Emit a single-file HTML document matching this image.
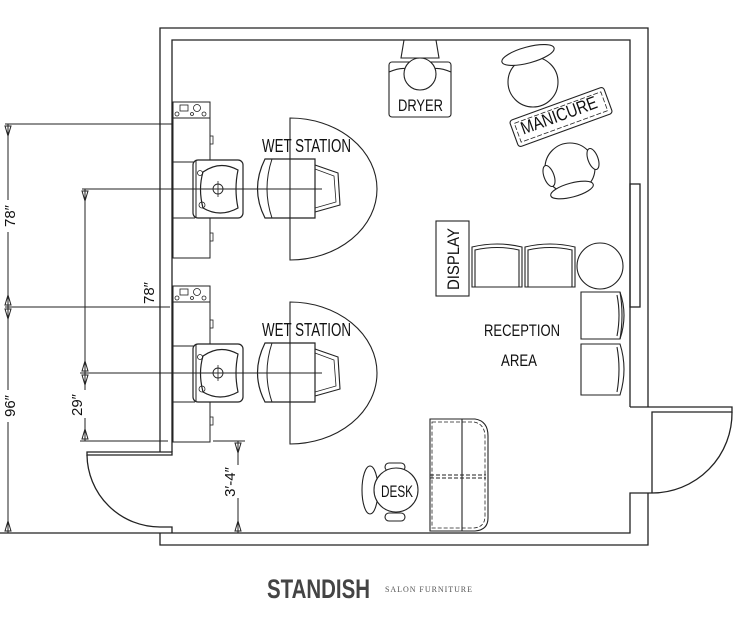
<!DOCTYPE html>
<html><head><meta charset="utf-8"><style>
html,body{margin:0;padding:0;background:#fff;}
svg{display:block;}
text{font-family:"Liberation Sans",sans-serif;fill:#111;}
</style></head><body>
<svg width="735" height="630" viewBox="0 0 735 630" xmlns="http://www.w3.org/2000/svg">
<defs>
<marker id="a" markerWidth="8" markerHeight="10" refX="4" refY="0" orient="auto" markerUnits="userSpaceOnUse">
</marker>
<g id="ws">
  <!-- cabinet -->
  <rect x="173" y="102" width="37" height="156" fill="none" stroke="#222" stroke-width="1"/>
  <line x1="173" y1="118" x2="210" y2="118" stroke="#222"/>
  <line x1="173" y1="162" x2="195" y2="162" stroke="#222"/>
  <line x1="173" y1="218" x2="195" y2="218" stroke="#222"/>
  <rect x="180" y="105" width="8" height="6" fill="none" stroke="#222" stroke-width="0.8"/>
  <circle cx="197" cy="108" r="3.5" fill="none" stroke="#222" stroke-width="0.8"/>
  <circle cx="177" cy="114" r="2" fill="none" stroke="#222" stroke-width="0.8"/>
  <circle cx="192" cy="114" r="1.5" fill="none" stroke="#222" stroke-width="0.8"/>
  <circle cx="204" cy="114" r="2" fill="none" stroke="#222" stroke-width="0.8"/>
  <rect x="210" y="136" width="3" height="8" fill="none" stroke="#222" stroke-width="0.8"/>
  <rect x="210" y="233" width="3" height="8" fill="none" stroke="#222" stroke-width="0.8"/>
  <!-- sink -->
  <rect x="193" y="160" width="50" height="58" rx="5" fill="#fff" stroke="#222" stroke-width="1.2"/>
  <line x1="196" y1="160" x2="196" y2="218" stroke="#222"/>
  <path d="M203 172 Q220 160 238 170 Q234 189 238 208 Q220 218 203 208 Q198 189 203 172Z" fill="none" stroke="#222" stroke-width="1.2"/>
  <circle cx="200" cy="173" r="2.5" fill="none" stroke="#222" stroke-width="0.8"/>
  <circle cx="202" cy="205" r="3" fill="none" stroke="#222" stroke-width="0.8"/>
  <circle cx="218" cy="189" r="5" fill="none" stroke="#222" stroke-width="0.9"/>
  <line x1="218" y1="181" x2="218" y2="197" stroke="#222" stroke-width="0.8"/>
  <!-- chair -->
  <path d="M265 159 L315 159 L315 218 L265 218 Q250 189 265 159Z" fill="#fff" stroke="#222" stroke-width="1.2"/>
  <path d="M272 159 Q262 189 272 218" fill="none" stroke="#222"/>
  <path d="M315 165 L338 173 L340 205 L315 212" fill="none" stroke="#222" stroke-width="1.1"/>
  <path d="M315 169 L334 176 L336 202 L315 208" fill="none" stroke="#222" stroke-width="0.8"/>
  <!-- half circle -->
  <path d="M290 118 A87 71 0 0 1 290 260 Z" fill="none" stroke="#222" stroke-width="1.1"/>
  <line x1="82" y1="189" x2="322" y2="189" stroke="#222" stroke-width="1"/>
  <text x="262" y="152" font-size="18" textLength="89" lengthAdjust="spacingAndGlyphs">WET STATION</text>
</g>
</defs>
<g fill="none" stroke="#222" stroke-width="1.3">
  <!-- walls -->
  <path d="M160 452 L160 28 L648 28 L648 407"/>
  <path d="M172 452 L172 40 L630 40 L630 407"/>
  <path d="M87 452 L172 452 L172 455 L87 455 Z"/>
  <path d="M87 455 A73 73 0 0 0 160 527"/>
  <path d="M160 527 L172 527 L172 533"/>
  <path d="M0 533 L630 533 L630 493 L652 493"/>
  <path d="M160 533 L160 545 L648 545 L648 493"/>
  <rect x="630" y="184" width="10" height="123"/>
  <path d="M648 407 L732 407 L732 412 L652 412 L652 493"/>
  <path d="M732 412 A80 80 0 0 1 652 493"/>
  <line x1="630" y1="407" x2="648" y2="407"/>
</g>
<use href="#ws"/>
<use href="#ws" y="184"/>
<g stroke="#222" stroke-width="1" fill="none">
  <!-- dimensions -->
  <line x1="5" y1="124" x2="172" y2="124"/>
  <line x1="5" y1="307" x2="170" y2="307"/>
  <line x1="8" y1="124" x2="8" y2="200"/>
  <line x1="8" y1="232" x2="8" y2="307"/>
  <line x1="8" y1="307" x2="8" y2="390"/>
  <line x1="8" y1="422" x2="8" y2="533"/>
  <line x1="82" y1="189" x2="90" y2="189"/>
  <line x1="85" y1="189" x2="85" y2="373"/>
  <line x1="80" y1="373" x2="322" y2="373"/>
  <line x1="85" y1="373" x2="85" y2="390"/>
  <line x1="85" y1="418" x2="85" y2="441"/>
  <line x1="80" y1="441" x2="168" y2="441"/>
  <line x1="213" y1="441" x2="245" y2="441"/>
  <line x1="238" y1="441" x2="238" y2="465"/>
  <line x1="238" y1="498" x2="238" y2="533"/>
  <path d="M5 126 L8 136 L11 126Z M5 305 L8 295 L11 305Z M5 309 L8 319 L11 309Z M5 531 L8 521 L11 531Z"/>
  <path d="M82 191 L85 201 L88 191Z M82 371 L85 361 L88 371Z M82 375 L85 385 L88 375Z M82 439 L85 429 L88 439Z"/>
  <path d="M235 443 L238 453 L241 443Z M235 531 L238 521 L241 531Z"/>
</g>
<g font-size="15">
  <text transform="translate(15,216) rotate(-90)" text-anchor="middle">78″</text>
  <text transform="translate(15,406) rotate(-90)" text-anchor="middle">96″</text>
  <text transform="translate(154,293) rotate(-90)" text-anchor="middle">78″</text>
  <text transform="translate(82,405) rotate(-90)" text-anchor="middle">29″</text>
  <text transform="translate(235,482) rotate(-90)" text-anchor="middle">3′-4″</text>
</g>
<g fill="none" stroke="#222" stroke-width="1.1">
  <!-- dryer -->
  <path d="M404 40 L436 40 L439 58 L401 58Z"/>
  <rect x="389" y="62" width="62" height="55" rx="3" fill="#fff"/>
  <path d="M389 72 Q403 66 410 70 M451 72 Q437 66 430 70"/>
  <circle cx="420" cy="74" r="16" fill="#fff"/>
  <!-- manicure chairs -->
  <circle cx="533" cy="82" r="25" fill="#fff"/>
  <ellipse cx="528" cy="55" rx="27" ry="8" transform="rotate(-15 528 55)" fill="#fff"/>
  <circle cx="570" cy="168" r="25" fill="#fff"/>
  <ellipse cx="572" cy="190" rx="22" ry="7" transform="rotate(-15 572 190)" fill="#fff"/>
  <ellipse cx="549" cy="176" rx="5" ry="11" transform="rotate(-20 549 176)" fill="#fff"/>
  <ellipse cx="593" cy="159" rx="5" ry="11" transform="rotate(-20 593 159)" fill="#fff"/>
  <g transform="rotate(-20 561 117)">
    <rect x="511" y="103" width="100" height="28" rx="3" fill="#fff"/>
    <rect x="515" y="107" width="92" height="20" stroke-dasharray="5 2" stroke-width="0.8"/>
  </g>
  <!-- display -->
  <rect x="436" y="221" width="33" height="75"/>
  <!-- reception chairs -->
  <path d="M472 287 L472 247 Q497 241 522 247 L522 287Z"/>
  <path d="M475 287 L475 250 Q497 245 519 250 L519 287"/>
  <path d="M525 287 L525 247 Q550 241 575 247 L575 287Z"/>
  <path d="M528 287 L528 250 Q550 245 572 250 L572 287"/>
  <circle cx="600" cy="266" r="23"/>
  <path d="M581 292 L620 292 Q628 315 620 339 L581 339Z"/>
  <path d="M620 292 Q624 315 620 339 M617 295 Q621 315 617 336"/>
  <path d="M581 344 L620 344 Q628 369 620 395 L581 395Z"/>
  <path d="M617 347 Q621 369 617 392"/>
  <!-- sofa -->
  <path d="M430 419 L475 419 Q488 421 488 436 L488 518 Q488 530 475 531 L430 531Z"/>
  <path d="M432 422 L474 422 Q485 424 485 437 L485 516 Q485 527 474 528 L432 528Z" stroke-dasharray="4 2" stroke-width="0.8"/>
  <line x1="462" y1="419" x2="462" y2="531"/>
  <line x1="430" y1="475" x2="486" y2="475" stroke-dasharray="4 2"/>
  <line x1="430" y1="478" x2="486" y2="478" stroke-dasharray="4 2"/>
  <!-- desk chair -->
  <ellipse cx="370" cy="490" rx="8" ry="24"/>
  <rect x="385" y="463" width="20" height="8" rx="4" fill="#fff"/>
  <rect x="385" y="513" width="20" height="8" rx="4" fill="#fff"/>
  <circle cx="396" cy="490" r="22" fill="#fff"/>
</g>
<g font-size="17">
  <text x="398" y="111" textLength="45" lengthAdjust="spacingAndGlyphs">DRYER</text>
  <text transform="translate(561,121) rotate(-20)" text-anchor="middle" font-size="18" textLength="80" lengthAdjust="spacingAndGlyphs">MANICURE</text>
  <text transform="translate(459,259) rotate(-90)" text-anchor="middle" textLength="62" lengthAdjust="spacingAndGlyphs">DISPLAY</text>
  <text x="484" y="336" textLength="76" lengthAdjust="spacingAndGlyphs">RECEPTION</text>
  <text x="501" y="366" textLength="36" lengthAdjust="spacingAndGlyphs">AREA</text>
  <text x="381" y="497" textLength="32" lengthAdjust="spacingAndGlyphs">DESK</text>
</g>
<text x="267" y="598" font-size="27" font-weight="bold" fill="#444" style="fill:#444" textLength="103" lengthAdjust="spacingAndGlyphs">STANDISH</text>
<text x="385" y="592" font-size="8" style="fill:#555;font-family:'Liberation Serif',serif" textLength="87" lengthAdjust="spacing">SALON FURNITURE</text>
</svg>
</body></html>
